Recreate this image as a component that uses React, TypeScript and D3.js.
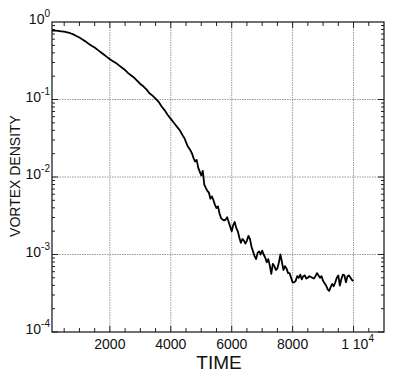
import React, { useEffect, useRef } from 'react';
import * as d3 from 'd3';

// time axis ticks
const timeTicks = [2000, 4000, 6000, 8000, 10000];
const decades = [0, -1, -2, -3, -4];

// vortex density (log10 of the value)
const times = [
  100, 200, 300, 400, 500, 600, 700, 800, 900, 1000,
  1100, 1200, 1300, 1400, 1500, 1600, 1700, 1800, 1900, 2000,
  2100, 2200, 2300, 2400, 2500, 2600, 2700, 2800, 2900, 3000,
  3100, 3200, 3300, 3400, 3500, 3600, 3700, 3800, 3900, 4000,
  4100, 4200, 4300, 4400, 4450, 4500, 4550, 4600, 4650, 4700,
  4750, 4800, 4850, 4900, 4950, 5000, 5050, 5100, 5150, 5200,
  5250, 5300, 5350, 5400, 5450, 5500, 5550, 5600, 5650, 5700,
  5750, 5800, 5850, 5900, 5950, 6000, 6050, 6100, 6150, 6200,
  6250, 6300, 6350, 6400, 6450, 6500, 6550, 6600, 6650, 6700,
  6750, 6800, 6850, 6900, 6950, 7000, 7050, 7100, 7150, 7200,
  7250, 7300, 7350, 7400, 7450, 7500, 7550, 7600, 7650, 7700,
  7750, 7800, 7850, 7900, 7950, 8000, 8050, 8100, 8150, 8200,
  8250, 8300, 8350, 8400, 8450, 8500, 8550, 8600, 8650, 8700,
  8750, 8800, 8850, 8900, 8950, 9000, 9050, 9100, 9150, 9200,
  9250, 9300, 9350, 9400, 9450, 9500, 9550, 9600, 9650, 9700,
  9750, 9800, 9850, 9900, 9950, 10000,
];
const logDensity = [
  -0.11, -0.11, -0.115, -0.12, -0.125, -0.135, -0.145, -0.16, -0.18, -0.2,
  -0.225, -0.25, -0.28, -0.305, -0.33, -0.36, -0.39, -0.42, -0.45, -0.48,
  -0.505, -0.53, -0.56, -0.59, -0.62, -0.66, -0.69, -0.72, -0.76, -0.8,
  -0.83, -0.87, -0.92, -0.95, -0.99, -1.03, -1.09, -1.14, -1.2, -1.25,
  -1.3, -1.35, -1.4, -1.47, -1.5, -1.55, -1.6, -1.63, -1.66, -1.7,
  -1.76, -1.8, -1.78, -1.88, -1.93, -1.98, -1.92, -2.1, -2.14, -2.18,
  -2.2, -2.28, -2.25, -2.3, -2.36, -2.4, -2.38, -2.47, -2.53, -2.55,
  -2.56, -2.55, -2.52, -2.58, -2.64, -2.7, -2.62, -2.58, -2.66, -2.7,
  -2.78, -2.85, -2.8, -2.82, -2.86, -2.82, -2.76, -2.8, -2.9, -2.96,
  -3.02, -3.06, -2.98, -2.96, -3.0, -2.95, -3.0, -3.04, -3.1, -3.06,
  -3.14, -3.25, -3.12, -3.15, -3.2, -3.18, -3.1, -3.0, -3.1, -3.2,
  -3.15, -3.18, -3.24, -3.24, -3.3, -3.36, -3.36, -3.34, -3.28, -3.3,
  -3.26, -3.32, -3.28, -3.27, -3.31, -3.3, -3.28, -3.29, -3.3, -3.31,
  -3.28, -3.24, -3.27, -3.3, -3.28, -3.34, -3.37, -3.4, -3.45, -3.47,
  -3.42, -3.38, -3.41, -3.36, -3.3, -3.27, -3.4, -3.32, -3.26, -3.27,
  -3.36, -3.28, -3.27, -3.3, -3.33, -3.34,
];

const W = 403;
const H = 384;
const margin = { left: 52, right: 19, top: 22, bottom: 52 };

const App = () => {
  const ref = useRef<SVGSVGElement>(null);

  useEffect(() => {
    const svg = d3.select(ref.current);
    svg.selectAll('*').remove();
    const iw = W - margin.left - margin.right;
    const ih = H - margin.top - margin.bottom;
    const font = 'Liberation Sans, Arial, Helvetica, sans-serif';

    const x = d3.scaleLinear().domain([100, 11000]).range([margin.left, margin.left + iw]);
    const y = d3.scaleLog().domain([1e-4, 1]).range([margin.top + ih, margin.top]);

    const g = svg.append('g');

    // grid
    timeTicks.forEach(t => {
      g.append('line')
        .attr('x1', x(t)).attr('x2', x(t))
        .attr('y1', margin.top).attr('y2', margin.top + ih)
        .attr('stroke', '#999').attr('stroke-width', 1)
        .attr('stroke-dasharray', '1.5,1');
    });
    decades.slice(1, 4).forEach(e => {
      g.append('line')
        .attr('x1', margin.left).attr('x2', margin.left + iw)
        .attr('y1', y(Math.pow(10, e))).attr('y2', y(Math.pow(10, e)))
        .attr('stroke', '#999').attr('stroke-width', 1)
        .attr('stroke-dasharray', '1.5,1');
    });

    // minor / major ticks, inside on all four sides
    const xt = d3.range(500, 11000, 500);
    xt.forEach(t => {
      const len = t % 2000 === 0 ? 6 : 4;
      g.append('line').attr('x1', x(t)).attr('x2', x(t))
        .attr('y1', margin.top + ih).attr('y2', margin.top + ih - len)
        .attr('stroke', '#222');
      g.append('line').attr('x1', x(t)).attr('x2', x(t))
        .attr('y1', margin.top).attr('y2', margin.top + len)
        .attr('stroke', '#222');
    });
    const yt: number[] = [];
    for (let e = -4; e < 0; e++) {
      for (let m = 1; m < 10; m++) yt.push(m * Math.pow(10, e));
    }
    yt.forEach(v => {
      const len = Math.abs(Math.log10(v) - Math.round(Math.log10(v))) < 1e-9 ? 6 : 3;
      g.append('line').attr('x1', margin.left).attr('x2', margin.left + len)
        .attr('y1', y(v)).attr('y2', y(v)).attr('stroke', '#222');
      g.append('line').attr('x1', margin.left + iw).attr('x2', margin.left + iw - len)
        .attr('y1', y(v)).attr('y2', y(v)).attr('stroke', '#222');
    });

    // frame
    g.append('rect')
      .attr('x', margin.left).attr('y', margin.top)
      .attr('width', iw).attr('height', ih)
      .attr('fill', 'none').attr('stroke', '#111').attr('stroke-width', 1.2);

    // curve
    const pts = times.map((t, i) => [t, Math.pow(10, logDensity[i])] as [number, number]);
    g.append('path')
      .datum(pts)
      .attr('d', d3.line<[number, number]>().x(d => x(d[0])).y(d => y(d[1])))
      .attr('fill', 'none')
      .attr('stroke', '#000')
      .attr('stroke-width', 1.8)
      .attr('stroke-linejoin', 'round');

    // y tick labels
    decades.forEach(e => {
      const t = g.append('text')
        .attr('x', margin.left - 2)
        .attr('y', y(Math.pow(10, e)) + 2)
        .attr('text-anchor', 'end')
        .attr('font-family', font)
        .attr('font-size', 14)
        .attr('fill', '#111');
      t.append('tspan').text('10');
      t.append('tspan').attr('dy', -7).attr('font-size', 10).text(e === 0 ? '0' : `-${-e}`);
    });

    // x tick labels
    timeTicks.slice(0, 4).forEach(v => {
      g.append('text')
        .attr('x', x(v)).attr('y', margin.top + ih + 17)
        .attr('text-anchor', 'middle')
        .attr('font-family', font).attr('font-size', 14).attr('fill', '#111')
        .text(v);
    });
    const last = g.append('text')
      .attr('x', x(10000) + 4).attr('y', margin.top + ih + 17)
      .attr('text-anchor', 'middle')
      .attr('font-family', font).attr('font-size', 14).attr('fill', '#111');
    last.append('tspan').text('1 10');
    last.append('tspan').attr('dy', -7).attr('font-size', 10).text('4');

    // axis titles
    g.append('text')
      .attr('x', margin.left + iw / 2 + 1).attr('y', margin.top + ih + 37)
      .attr('text-anchor', 'middle')
      .attr('font-family', font).attr('font-size', 19).attr('fill', '#111')
      .text('TIME');
    g.append('text')
      .attr('transform', `translate(20 ${176}) rotate(-90)`)
      .attr('text-anchor', 'middle')
      .attr('font-family', font).attr('font-size', 14).attr('fill', '#111')
      .text('VORTEX DENSITY');
  }, []);

  return <svg ref={ref} width={W} height={H} style={{ display: 'block', position: 'absolute', left: 0, top: 0, background: '#fff' }} />;
};

export default App;
